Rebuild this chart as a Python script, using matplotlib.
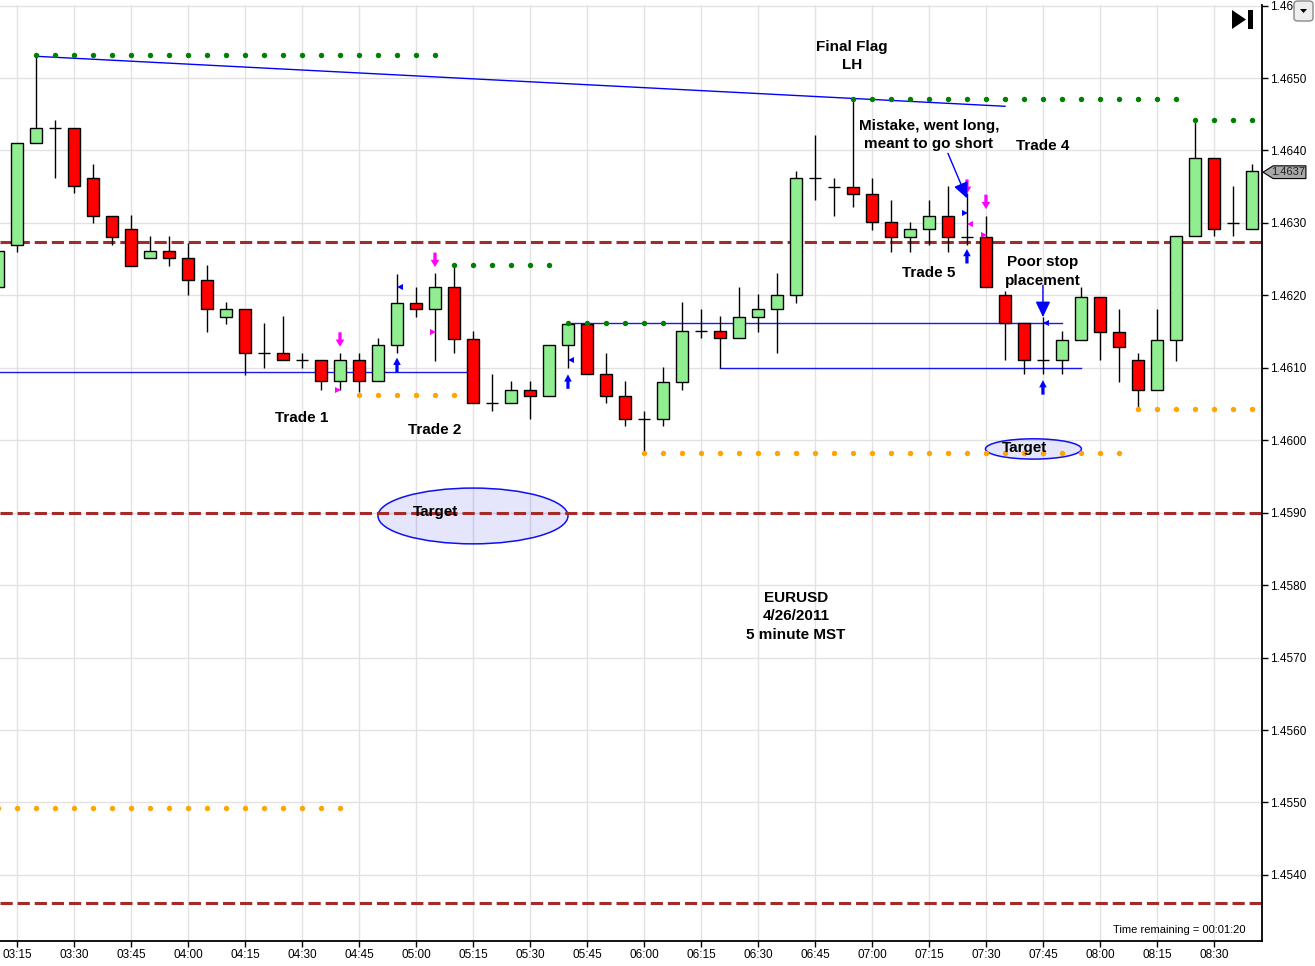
import numpy as np
import matplotlib
matplotlib.use("Agg")
import matplotlib.pyplot as plt
import matplotlib.transforms as mtransforms
from matplotlib.patches import Ellipse, FancyArrow, Polygon, Rectangle, FancyBboxPatch

# ---------------------------------------------------------------------------
# Data: EURUSD 5 minute bars, 03:10 - 08:40 MST (bar 0 = 03:10)
# ---------------------------------------------------------------------------
opens = [1.46212, 1.46270, 1.46411, 1.46431, 1.46431, 1.46362, 1.46310, 1.46291, 1.46251, 1.46261,
         1.46251, 1.46221, 1.46170, 1.46181, 1.46121, 1.46121, 1.46111, 1.46111, 1.46082, 1.46111,
         1.46082, 1.46131, 1.46190, 1.46181, 1.46211, 1.46140, 1.46051, 1.46051, 1.46070, 1.46061,
         1.46131, 1.46161, 1.46091, 1.46061, 1.46030, 1.46030, 1.46081, 1.46151, 1.46151, 1.46141,
         1.46170, 1.46181, 1.46201, 1.46362, 1.46350, 1.46350, 1.46340, 1.46301, 1.46281, 1.46291,
         1.46310, 1.46281, 1.46281, 1.46201, 1.46162, 1.46111, 1.46111, 1.46139, 1.46198, 1.46149,
         1.46111, 1.46069, 1.46139, 1.46282, 1.46390, 1.46300, 1.46291]
highs = [1.46261, 1.46411, 1.46530, 1.46442, 1.46431, 1.46381, 1.46310, 1.46311, 1.46282, 1.46282,
         1.46272, 1.46242, 1.46191, 1.46181, 1.46162, 1.46171, 1.46121, 1.46111, 1.46121, 1.46121,
         1.46141, 1.46230, 1.46212, 1.46231, 1.46242, 1.46151, 1.46091, 1.46082, 1.46082, 1.46131,
         1.46161, 1.46161, 1.46121, 1.46082, 1.46041, 1.46101, 1.46191, 1.46181, 1.46171, 1.46211,
         1.46202, 1.46231, 1.46372, 1.46421, 1.46362, 1.46472, 1.46362, 1.46332, 1.46301, 1.46332,
         1.46351, 1.46341, 1.46310, 1.46206, 1.46162, 1.46170, 1.46151, 1.46212, 1.46198, 1.46181,
         1.46121, 1.46181, 1.46282, 1.46442, 1.46390, 1.46351, 1.46381]
lows = [1.46212, 1.46260, 1.46411, 1.46362, 1.46341, 1.46300, 1.46270, 1.46241, 1.46251, 1.46241,
        1.46201, 1.46150, 1.46160, 1.46090, 1.46100, 1.46111, 1.46100, 1.46070, 1.46070, 1.46066,
        1.46082, 1.46120, 1.46170, 1.46110, 1.46121, 1.46051, 1.46041, 1.46051, 1.46030, 1.46061,
        1.46100, 1.46091, 1.46051, 1.46020, 1.45982, 1.46020, 1.46070, 1.46141, 1.46100, 1.46141,
        1.46150, 1.46121, 1.46190, 1.46331, 1.46310, 1.46322, 1.46290, 1.46260, 1.46260, 1.46270,
        1.46260, 1.46270, 1.46211, 1.46111, 1.46091, 1.46091, 1.46091, 1.46139, 1.46111, 1.46081,
        1.46046, 1.46069, 1.46110, 1.46282, 1.46282, 1.46282, 1.46291]
closes = [1.46261, 1.46411, 1.46431, 1.46431, 1.46351, 1.46310, 1.46281, 1.46241, 1.46261, 1.46251,
          1.46221, 1.46181, 1.46181, 1.46121, 1.46121, 1.46111, 1.46111, 1.46082, 1.46111, 1.46082,
          1.46131, 1.46190, 1.46181, 1.46211, 1.46140, 1.46051, 1.46051, 1.46070, 1.46061, 1.46131,
          1.46161, 1.46091, 1.46061, 1.46030, 1.46030, 1.46081, 1.46151, 1.46151, 1.46141, 1.46170,
          1.46181, 1.46201, 1.46362, 1.46362, 1.46350, 1.46340, 1.46301, 1.46281, 1.46291, 1.46310,
          1.46281, 1.46281, 1.46211, 1.46162, 1.46111, 1.46111, 1.46139, 1.46198, 1.46149, 1.46129,
          1.46069, 1.46139, 1.46282, 1.46390, 1.46291, 1.46300, 1.46371]

time_labels = ["03:15", "03:30", "03:45", "04:00", "04:15", "04:30", "04:45", "05:00",
               "05:15", "05:30", "05:45", "06:00", "06:15", "06:30", "06:45", "07:00",
               "07:15", "07:30", "07:45", "08:00", "08:15", "08:30"]
time_label_bars = [1, 4, 7, 10, 13, 16, 19, 22, 25, 28, 31, 34, 37, 40, 43, 46, 49, 52, 55, 58, 61, 64]
price_ticks = [1.4540, 1.4550, 1.4560, 1.4570, 1.4580, 1.4590, 1.4600,
               1.4610, 1.4620, 1.4630, 1.4640, 1.4650, 1.4660]

# swing high / low dot runs: first bar, last bar, level
green_dot_first = [2, 24, 30, 45, 63]
green_dot_last = [23, 29, 35, 62, 66]
green_dot_level = [1.46532, 1.46242, 1.46162, 1.46471, 1.46442]
orange_dot_first = [0, 19, 34, 60]
orange_dot_last = [18, 24, 59, 66]
orange_dot_level = [1.45492, 1.46062, 1.45982, 1.46043]

# dashed support / resistance levels
dashed_levels = [1.46274, 1.45900, 1.45361]

# blue lines: trend line and horizontal ranges
trend_bars = [2, 53]
trend_prices = [1.46530, 1.46461]
hline_first = [0, 30, 38]
hline_last = [25, 56, 57]
hline_level = [1.46094, 1.46162, 1.46100]

# trade markers
sell_arrow_bars = [18, 23, 51, 52]
sell_arrow_tips = [1.46129, 1.46239, 1.46340, 1.46319]
buy_arrow_bars = [21, 30, 51, 55]
buy_arrow_tips = [1.46114, 1.46091, 1.46264, 1.46083]
blue_left_bars = [21, 30, 55]
blue_left_prices = [1.46211, 1.46111, 1.46162]
blue_right_bars = [51]
blue_right_prices = [1.46314]
pink_right_bars = [18, 23, 52]
pink_right_prices = [1.46069, 1.46150, 1.46283]
pink_left_bars = [51]
pink_left_prices = [1.46298]

# text notes: text, bar, price
notes = [
    ("Final Flag\nLH", 44.95, 1.46530),
    ("Mistake, went long,\nmeant to go short", 49.0, 1.46421),
    ("Trade 4", 55.0, 1.46406),
    ("Trade 5", 49.0, 1.46231),
    ("Poor stop\nplacement", 55.0, 1.46233),
    ("Trade 1", 16.0, 1.46031),
    ("Trade 2", 23.0, 1.46014),
    ("Target", 23.05, 1.45901),
    ("Target", 54.05, 1.45989),
    ("EURUSD\n4/26/2011\n5 minute MST", 42.0, 1.45757),
]
# target ellipses: center bar, center price, width (bars), height (price)
target_bar = [25.0, 54.5]
target_price = [1.458955, 1.45988]
target_w = [10.0, 5.05]
target_h = [0.00077, 0.00028]

last_price = 1.4637

FONT = ["Liberation Sans", "DejaVu Sans"]
W, H = 1315, 966


def fx(px):
    return px / W


def fy(py):
    return 1 - py / H


# ---------------------------------------------------------------------------
# Figure
# ---------------------------------------------------------------------------
fig = plt.figure(figsize=(W / 100, H / 100), dpi=100)
ax = fig.add_axes([0, fy(941), fx(1262), fy(5) - fy(941)])
ax.set_xlim(0.105, 66.53)
ax.set_ylim(1.453088, 1.466008)
ax.set_axisbelow(True)

for s in ["left", "top"]:
    ax.spines[s].set_visible(False)
ax.spines["right"].set_linewidth(1.3)
ax.spines["bottom"].set_linewidth(1.3)

ax.yaxis.tick_right()
ax.set_yticks(price_ticks)
ax.set_yticklabels([f"{p:.4f}" for p in price_ticks], fontsize=8.5, family=FONT)
ax.set_xticks(time_label_bars)
ax.set_xticklabels(time_labels, fontsize=8.5, family=FONT)
ax.tick_params(axis="y", direction="out", length=4, width=1, pad=2)
ax.tick_params(axis="x", direction="out", length=4, width=1, pad=2)
ax.grid(True, color="#E2E2E2", lw=1)

# target ellipses (under everything else)
for bx, py, w, h in zip(target_bar, target_price, target_w, target_h):
    ax.add_patch(Ellipse((bx, py), w, h, fc=(0.0, 0.0, 0.9, 0.1), ec="#1010F0", lw=1.1, zorder=1))

# dashed levels
for lvl in dashed_levels:
    ax.axhline(lvl, color="#A52A2A", lw=2.2, ls=(0, (4, 1.6)), zorder=2)

# blue lines
ax.plot(trend_bars, trend_prices, color="#0000FF", lw=1, zorder=2)
for a, b, lvl in zip(hline_first, hline_last, hline_level):
    ax.plot([a, b], [lvl, lvl], color="#0000EE", lw=1, alpha=0.9, zorder=2)

# ---------------------------------------------------------------------------
# Candles
# ---------------------------------------------------------------------------
x = np.arange(len(opens))
o = np.array(opens)
c = np.array(closes)
up = c > o + 1e-7
down = c < o - 1e-7
flat = ~(up | down)
body_w = 0.6

ax.vlines(x, lows, highs, color="black", lw=1, zorder=3)
ax.bar(x[up], (c - o)[up], bottom=o[up], width=body_w, color="#90EE90",
       edgecolor="black", lw=1, zorder=4)
ax.bar(x[down], (o - c)[down], bottom=c[down], width=body_w, color="#FF0000",
       edgecolor="black", lw=1, zorder=4)
ax.hlines(c[flat], x[flat] - 0.33, x[flat] + 0.33, color="black", lw=1, zorder=4)

# swing dots
for a, b, lvl in zip(green_dot_first, green_dot_last, green_dot_level):
    xs = np.arange(a, b + 1)
    ax.plot(xs, [lvl] * len(xs), "o", color="#008000", ms=3.9, mew=0, zorder=5)
for a, b, lvl in zip(orange_dot_first, orange_dot_last, orange_dot_level):
    xs = np.arange(a, b + 1)
    ax.plot(xs, [lvl] * len(xs), "o", color="#FFA500", ms=3.9, mew=0, zorder=5)

# ---------------------------------------------------------------------------
# Trade markers
# ---------------------------------------------------------------------------
arrow_len = 0.00020
head_len = 0.00010
for bx, tip in zip(sell_arrow_bars, sell_arrow_tips):
    ax.add_patch(FancyArrow(bx, tip + arrow_len, 0, -arrow_len, width=0.17, head_width=0.45,
                            head_length=head_len, length_includes_head=True,
                            fc="#FF00FF", ec="none", zorder=6))
for bx, tip in zip(buy_arrow_bars, buy_arrow_tips):
    ax.add_patch(FancyArrow(bx, tip - arrow_len, 0, arrow_len, width=0.17, head_width=0.4,
                            head_length=head_len, length_includes_head=True,
                            fc="#0000FF", ec="none", zorder=6))

ax.plot(np.array(blue_left_bars) + 0.17, blue_left_prices, "<", color="#0000FF", ms=5, mew=0, zorder=6)
ax.plot(np.array(blue_right_bars) - 0.12, blue_right_prices, ">", color="#0000FF", ms=5, mew=0, zorder=6)
ax.plot(np.array(pink_right_bars) - 0.12, pink_right_prices, ">", color="#FF00FF", ms=5, mew=0, zorder=6)
ax.plot(np.array(pink_left_bars) + 0.17, pink_left_prices, "<", color="#FF00FF", ms=5, mew=0, zorder=6)

# pointer arrows from the notes
big_head = dict(arrowstyle="-|>,head_length=0.95,head_width=0.45", color="#0000FF",
                lw=1, mutation_scale=10, shrinkA=0, shrinkB=0)
ax.annotate("", xy=(51.0, 1.46334), xytext=(50.0, 1.46396), arrowprops=big_head, zorder=7)
ax.annotate("", xy=(55.0, 1.46170), xytext=(55.0, 1.46214), arrowprops=big_head, zorder=7)

# ---------------------------------------------------------------------------
# Text
# ---------------------------------------------------------------------------
for txt, bx, py in notes:
    ax.text(bx, py, txt, ha="center", va="center", fontsize=11, fontweight="bold",
            family=FONT, color="black", linespacing=1.4, zorder=8)

ax.text(62.2, 1.45324, "Time remaining = 00:01:20", ha="center", va="center",
        fontsize=8, family=FONT, zorder=8)

# last price tag on the right axis
tag = mtransforms.blended_transform_factory(ax.transAxes, ax.transData)
dy = 0.000088
ax.add_patch(Polygon([(1.0008, last_price), (1.0088, last_price + dy), (1.0348, last_price + dy),
                      (1.0348, last_price - dy), (1.0088, last_price - dy)],
                     closed=True, transform=tag, fc="#A8A8A8", ec="black", lw=0.8,
                     clip_on=False, zorder=9))
ax.text(1.0205, last_price, f"{last_price:.4f}", transform=tag, ha="center", va="center",
        fontsize=8, family=FONT, color="#202020", zorder=10, clip_on=False)

# ---------------------------------------------------------------------------
# Chart UI bits (scroll-to-end button and dropdown)
# ---------------------------------------------------------------------------
fig.patches.append(Polygon([(fx(1232), fy(10)), (fx(1232), fy(29)), (fx(1246), fy(19.5))],
                           closed=True, transform=fig.transFigure, fc="black", ec="none"))
fig.patches.append(Rectangle((fx(1248), fy(29)), fx(4.5), fy(10) - fy(29),
                             transform=fig.transFigure, fc="black", ec="none"))
fig.patches.append(FancyBboxPatch((fx(1294), fy(21)), fx(19), fy(1) - fy(21),
                                  boxstyle="round,pad=0,rounding_size=0.003",
                                  transform=fig.transFigure, fc="#EEEEEE", ec="#8A8A8A", lw=1))
fig.patches.append(Polygon([(fx(1300), fy(9)), (fx(1307), fy(9)), (fx(1303.5), fy(13))],
                           closed=True, transform=fig.transFigure, fc="black", ec="none"))

fig.savefig("out.png", dpi=100)
